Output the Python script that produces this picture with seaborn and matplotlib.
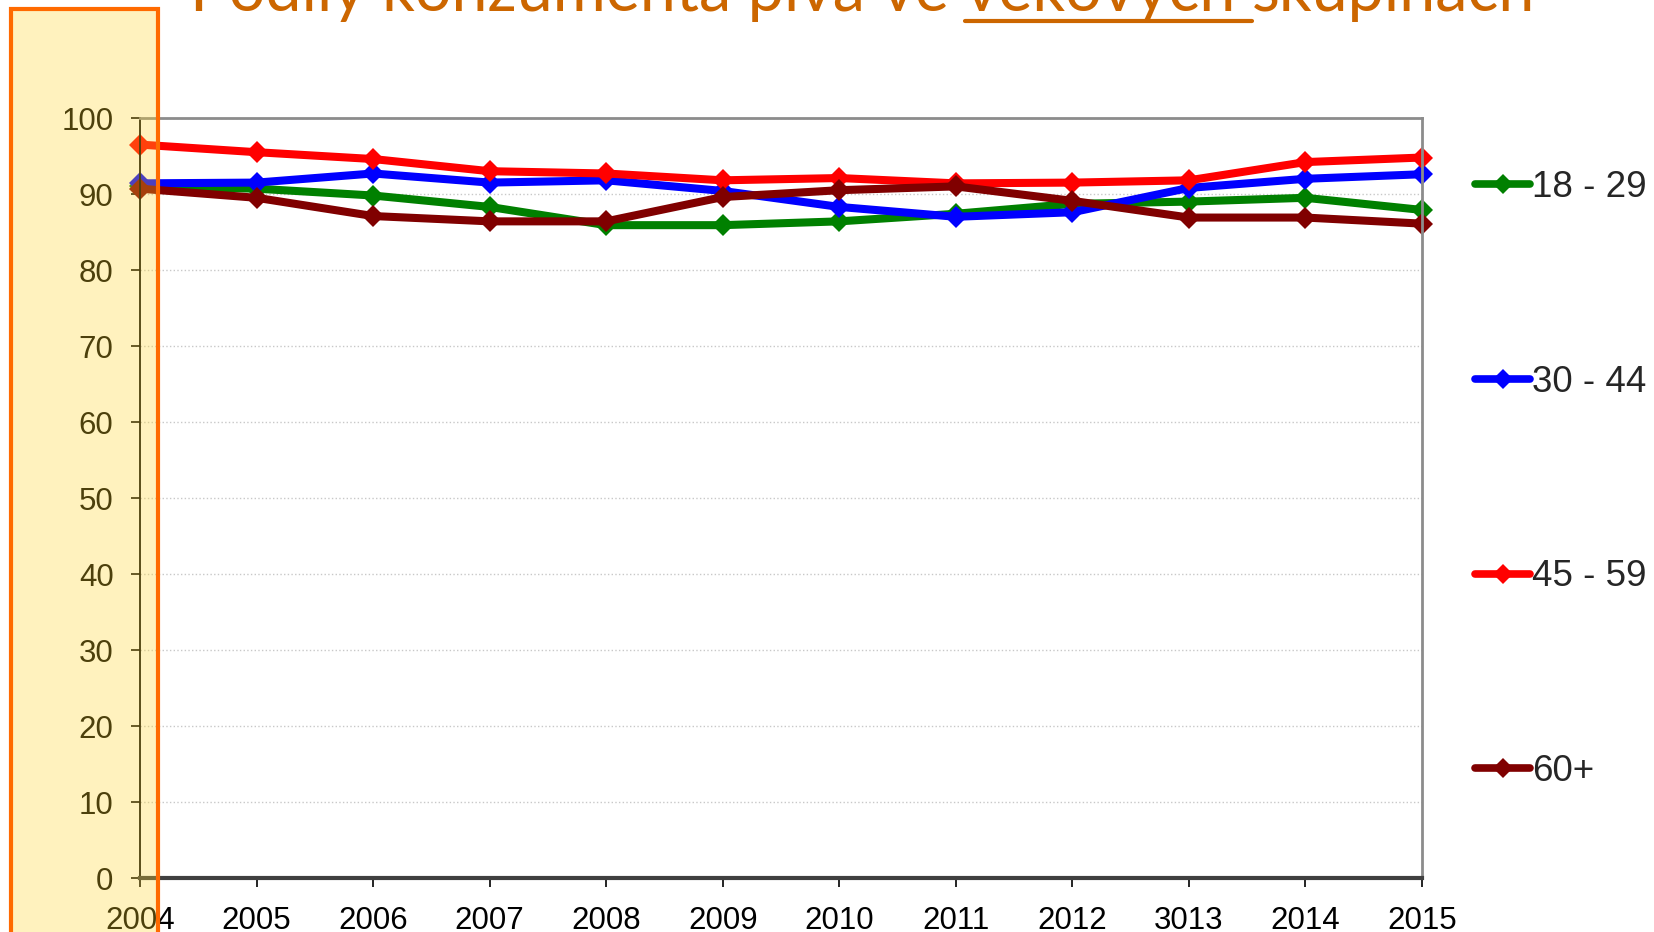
import matplotlib
matplotlib.use('Agg')
import matplotlib.pyplot as plt
import pandas as pd
import seaborn as sns
from matplotlib.lines import Line2D
from matplotlib.patches import Rectangle

# data
years = ['2004', '2005', '2006', '2007', '2008', '2009',
         '2010', '2011', '2012', '3013', '2014', '2015']
groups = ['18 - 29', '30 - 44', '45 - 59', '60+']
v_18_29 = [91.0, 90.7, 89.8, 88.3, 85.9, 85.9, 86.4, 87.4, 88.7, 89.0, 89.5, 87.9]
v_30_44 = [91.4, 91.5, 92.7, 91.5, 91.8, 90.4, 88.3, 87.0, 87.6, 90.8, 92.0, 92.6]
v_45_59 = [96.5, 95.5, 94.6, 93.0, 92.7, 91.8, 92.1, 91.4, 91.5, 91.8, 94.2, 94.8]
v_60 = [90.7, 89.5, 87.1, 86.4, 86.4, 89.6, 90.5, 91.0, 89.1, 86.9, 86.9, 86.1]
colors = ['#008000', '#0000FF', '#FF0000', '#800000']

title_parts = ['Podíly konzumenta piva ve ', 'věkových ', 'skupinách']

df = pd.DataFrame({
    'pos': list(range(len(years))) * 4,
    'group': [g for g in groups for _ in years],
    'value': v_18_29 + v_30_44 + v_45_59 + v_60,
})

sns.set_style('white')
plt.rcParams['font.family'] = ['Liberation Sans', 'DejaVu Sans']

fig = plt.figure(figsize=(16.54, 9.32), dpi=100)
ax = fig.add_axes([140 / 1654, 1 - 878 / 932, (1422 - 140) / 1654, (878 - 118) / 932])

sns.lineplot(data=df, x='pos', y='value', hue='group', style='group',
             palette=colors, markers=['D'] * 4, dashes=False,
             linewidth=5.8, markersize=11, markeredgewidth=0,
             ax=ax, legend=False)
for ln in ax.lines:
    ln.set_clip_on(False)

ax.set_xlim(0, len(years) - 1)
ax.set_ylim(0, 100)
ax.set_xticks(range(len(years)))
ax.set_xticklabels(years)
ax.set_yticks(range(0, 101, 10))
ax.set_xlabel('')
ax.set_ylabel('')
ax.yaxis.grid(True, color='#C8C8C8', linestyle=':', linewidth=1)
ax.xaxis.grid(False)

ax.spines['top'].set_color('#8C8C8C')
ax.spines['top'].set_linewidth(2)
ax.spines['right'].set_color('#8C8C8C')
ax.spines['right'].set_linewidth(2)
ax.spines['bottom'].set_color('#404040')
ax.spines['bottom'].set_linewidth(3)
ax.spines['left'].set_color('#000000')
ax.spines['left'].set_linewidth(1.3)

ax.tick_params(axis='both', direction='out', length=6.5, width=1.2,
               colors='black', labelsize=22.5, bottom=True, left=True)
ax.tick_params(axis='y', pad=12.5)
ax.tick_params(axis='x', pad=14)

# legend on the right
handles = [Line2D([], [], color=c, lw=5.5, marker='D', markersize=10,
                  markeredgewidth=0, solid_capstyle='round') for c in colors]
fig.legend(handles, groups, loc='upper left',
           bbox_to_anchor=(1475 / 1654, 1 - 170 / 932),
           frameon=False, fontsize=26.5, handlelength=1.5,
           handletextpad=0.05, labelspacing=4.34, borderpad=0,
           borderaxespad=0)

# highlight box over the first year
box = Rectangle((10.5 / 1654, -0.05), (158 - 10.5) / 1654, 1 - 9 / 932 + 0.05,
                transform=fig.transFigure,
                facecolor=(1.0, 0.84, 0.16, 0.3), edgecolor='#FF6A00',
                linewidth=3, zorder=5)
fig.add_artist(box)

# title, partly cut off, with underlined middle word
fig.canvas.draw()
renderer = fig.canvas.get_renderer()
x = 190 / 1654
y = 1 - 11 / 932
for i, part in enumerate(title_parts):
    t = fig.text(x, y, part, color='#CC6600', fontsize=46.5, family='Lato',
                 ha='left', va='baseline')
    bb = t.get_window_extent(renderer)
    x1 = bb.x1 / fig.bbox.width
    if i == 1:
        fig.add_artist(Line2D([x, x1], [1 - 21 / 932] * 2, color='#CC6600',
                              lw=3, transform=fig.transFigure))
    x = x1

fig.savefig('out.png', dpi=100)
